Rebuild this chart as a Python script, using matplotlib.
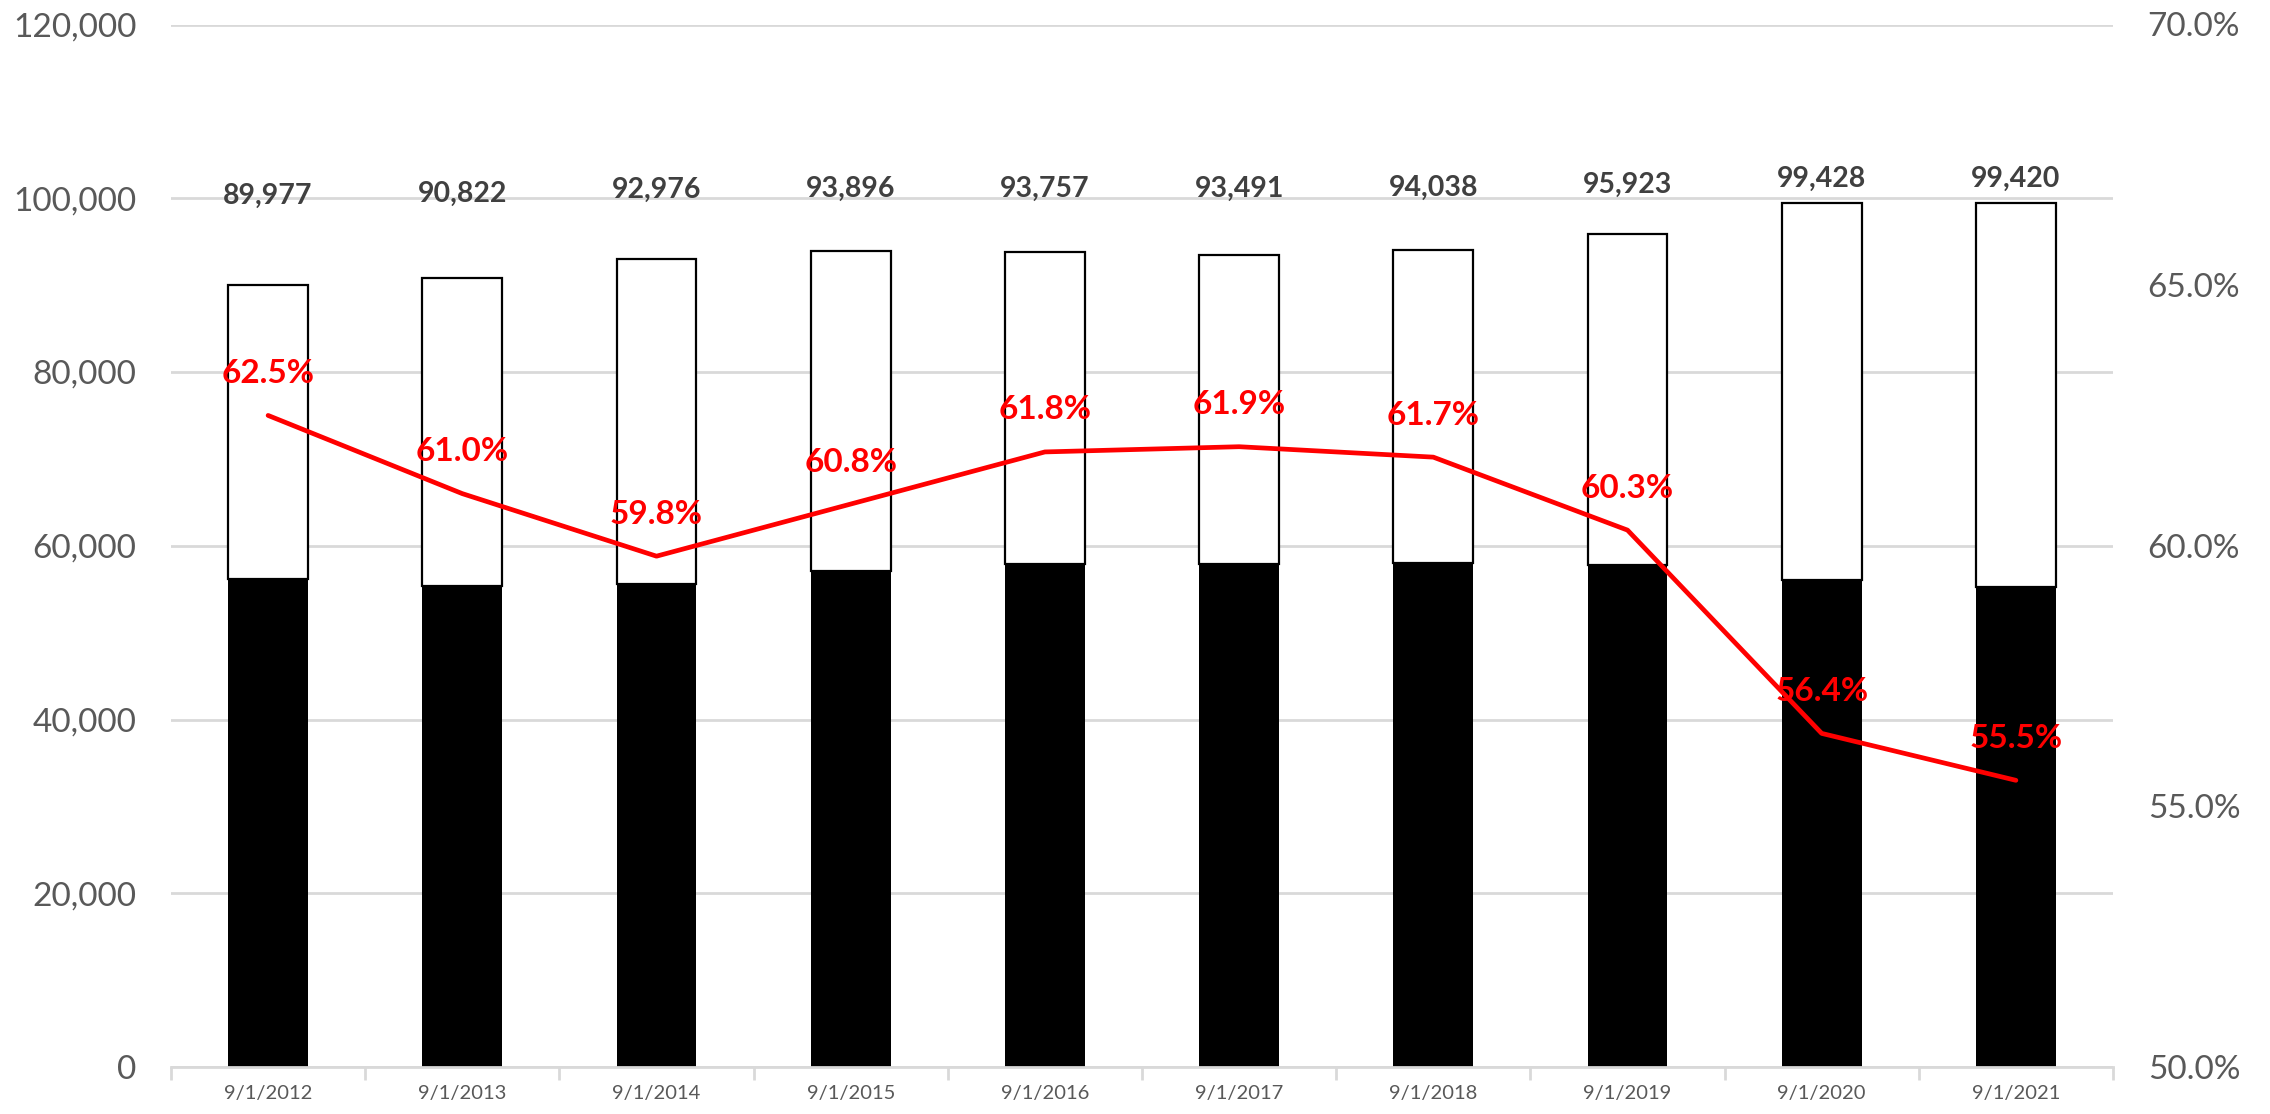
import matplotlib.pyplot as plt
from matplotlib.ticker import FuncFormatter, FixedLocator

plt.rcParams['font.family'] = ['Lato', 'DejaVu Sans']

# data
dates = ['9/1/2012', '9/1/2013', '9/1/2014', '9/1/2015', '9/1/2016',
         '9/1/2017', '9/1/2018', '9/1/2019', '9/1/2020', '9/1/2021']
totals = [89977, 90822, 92976, 93896, 93757, 93491, 94038, 95923, 99428, 99420]
lower = [56200, 55400, 55600, 57100, 57900, 57900, 58000, 57800, 56100, 55200]
rate = [62.5, 61.0, 59.8, 60.8, 61.8, 61.9, 61.7, 60.3, 56.4, 55.5]

W, H = 2270, 1114
fig = plt.figure(figsize=(W / 100, H / 100), dpi=100)
left, right, top, bottom = 171, 2113, 24.5, 1067
ax = fig.add_axes([left / W, (H - bottom) / H, (right - left) / W, (bottom - top) / H])

x = list(range(len(dates)))
upper = [t - l for t, l in zip(totals, lower)]
bw = 0.41

ax.bar(x, lower, width=bw, color='black', zorder=2)
ax.bar(x, upper, bottom=lower, width=bw, color='white', edgecolor='black',
       linewidth=1.6, zorder=2)

ax.set_xlim(-0.5, len(dates) - 0.5)
ax.set_ylim(0, 120000)
ax.set_yticks(range(0, 120001, 20000))
ax.yaxis.set_major_formatter(FuncFormatter(lambda v, p: f'{int(v):,}'))
ax.grid(axis='y', color='#d9d9d9', linewidth=2, zorder=0)
ax.set_axisbelow(True)

for s in ['top', 'left', 'right']:
    ax.spines[s].set_visible(False)
ax.spines['bottom'].set_color('#d9d9d9')
ax.spines['bottom'].set_linewidth(2)
ax.spines['bottom'].set_zorder(3)

ax.set_xticks(x)
ax.set_xticklabels(dates, fontsize=14.5, color='#595959')
ax.tick_params(axis='x', length=0, pad=13)
ax.xaxis.set_minor_locator(FixedLocator([i - 0.5 for i in range(len(dates) + 1)]))
ax.tick_params(axis='x', which='minor', length=9, width=2, color='#d9d9d9')
ax.tick_params(axis='y', length=0, labelsize=24, labelcolor='#595959', pad=25)

# total labels above bars
for i, t in enumerate(totals):
    ax.text(i, 100300 + (t - 89977) * 0.21, f'{t:,}', ha='center', va='center',
            fontsize=20.5, fontweight='bold', color='#404040', zorder=5)

ax2 = ax.twinx()
ax2.set_ylim(50, 70)
ax2.set_yticks(range(50, 71, 5))
ax2.yaxis.set_major_formatter(FuncFormatter(lambda v, p: f'{v:.1f}%'))
ax2.tick_params(axis='y', length=0, labelsize=24, labelcolor='#595959', pad=25)
for s in ax2.spines.values():
    s.set_visible(False)

ax2.plot(x, rate, color='#ff0000', linewidth=3.4, solid_capstyle='round',
         solid_joinstyle='round', zorder=4)
for i, r in enumerate(rate):
    ax2.annotate(f'{r:.1f}%', (i, r), xytext=(0, 42), textcoords='offset pixels',
                 ha='center', va='center', fontsize=24, fontweight='bold',
                 color='#ff0000', zorder=6)

fig.savefig('out.png', dpi=100)
